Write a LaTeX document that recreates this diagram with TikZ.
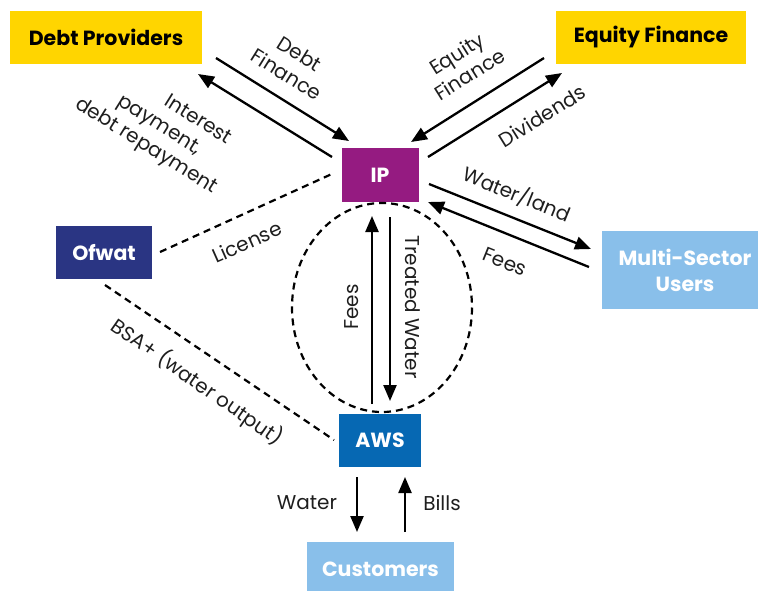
\documentclass[tikz,border=0pt]{standalone}
\usepackage{fontspec}
\setmainfont{Poppins}
\usetikzlibrary{arrows.meta}
\definecolor{cyellow}{HTML}{FFD500}
\definecolor{cpurple}{HTML}{951B81}
\definecolor{cnavy}{HTML}{2A3583}
\definecolor{cblue}{HTML}{0668B3}
\definecolor{clight}{HTML}{89BFEA}
\definecolor{ctext}{HTML}{1E1E1E}
\begin{document}
\begin{tikzpicture}[x=1pt,y=-1pt,
  box/.style={fill=#1, inner sep=0pt, align=center, font=\fontsize{20.5}{26}\selectfont\bfseries},
  lbl/.style={text=ctext, inner sep=0pt, align=center, font=\fontsize{20}{24.5}\selectfont},
  arr/.style={line width=2.3pt, draw=black, -{Triangle[length=16pt,width=13pt]}},
  dsh/.style={line width=2.2pt, draw=black, dash pattern=on 7pt off 5pt}]
\useasboundingbox (0,0) rectangle (758,590);
% boxes
\node[box=cyellow, text=black, minimum width=192pt, minimum height=53pt] (debt) at (106,37.5) {Debt Providers};
\node[box=cyellow, text=black, minimum width=190pt, minimum height=53pt] (equity) at (651,37.5) {Equity Finance};
\node[box=cpurple, text=white, minimum width=77pt, minimum height=54pt] (ip) at (380,175) {IP};
\node[box=cnavy, text=white, minimum width=96pt, minimum height=53pt] (ofwat) at (104,252.5) {Ofwat};
\node[box=clight, text=white, minimum width=166pt, minimum height=78pt] (msu) at (685,270) {Multi-Sector\\Users};
\node[box=cblue, text=white, minimum width=82pt, minimum height=53pt] (aws) at (380,440.5) {AWS};
\node[box=clight, text=white, minimum width=147pt, minimum height=54pt] (cust) at (380.5,569) {Customers};
% arrow end points
\coordinate (df1) at (216,58);  \coordinate (df2) at (349,141);
\coordinate (ip1) at (332,157); \coordinate (ip2) at (198,74);
\coordinate (ef1) at (544,58);  \coordinate (ef2) at (411,142);
\coordinate (dv1) at (428,157); \coordinate (dv2) at (562,73);
\coordinate (wl1) at (429,184); \coordinate (wl2) at (591,249);
\coordinate (fm1) at (589,267); \coordinate (fm2) at (428,202);
\coordinate (fv1) at (372,404); \coordinate (fv2) at (372,216);
\coordinate (tw1) at (390,217); \coordinate (tw2) at (390,401);
\coordinate (wa1) at (357,477); \coordinate (wa2) at (357,532);
\coordinate (bi1) at (405,532); \coordinate (bi2) at (405,477);
\coordinate (lc1) at (160,252); \coordinate (lc2) at (334,173);
\coordinate (bs1) at (105,285); \coordinate (bs2) at (334,440);
% connectors
\draw[arr] (df1) -- (df2);
\draw[arr] (ip1) -- (ip2);
\draw[arr] (ef1) -- (ef2);
\draw[arr] (dv1) -- (dv2);
\draw[arr] (wl1) -- (wl2);
\draw[arr] (fm1) -- (fm2);
\draw[arr] (fv1) -- (fv2);
\draw[arr] (tw1) -- (tw2);
\draw[arr] (wa1) -- (wa2);
\draw[arr] (bi1) -- (bi2);
\draw[dsh] (lc1) -- (lc2);
\draw[dsh] (bs1) -- (bs2);
\draw[dsh] (382,307.5) ellipse [x radius=90, y radius=104.5];
% labels
\node[lbl, rotate=-32] (tdf) at (293,64) {Debt\\Finance};
\node[lbl, rotate=-32] (tip) at (159,126) {\hspace*{3em}Interest\\payment,\\debt repayment};
\node[lbl, rotate=32] (tef) at (463,64) {Equity\\Finance};
\node[lbl, rotate=32] (tdv) at (542,116) {Dividends};
\node[lbl, rotate=-22] (twl) at (517,194) {Water/land};
\node[lbl, rotate=-22] (tfm) at (505,262) {Fees};
\node[lbl, rotate=24] (tlc) at (247,242) {License};
\node[lbl, rotate=-35] (tbs) at (197,382) {BSA+ (water output)};
\node[lbl, rotate=90] (tfv) at (352,307) {Fees};
\node[lbl, rotate=-90] (ttw) at (413,307) {Treated Water};
\node[lbl] (twa) at (307,503) {Water};
\node[lbl] (tbi) at (442,503) {Bills};
\end{tikzpicture}
\end{document}
